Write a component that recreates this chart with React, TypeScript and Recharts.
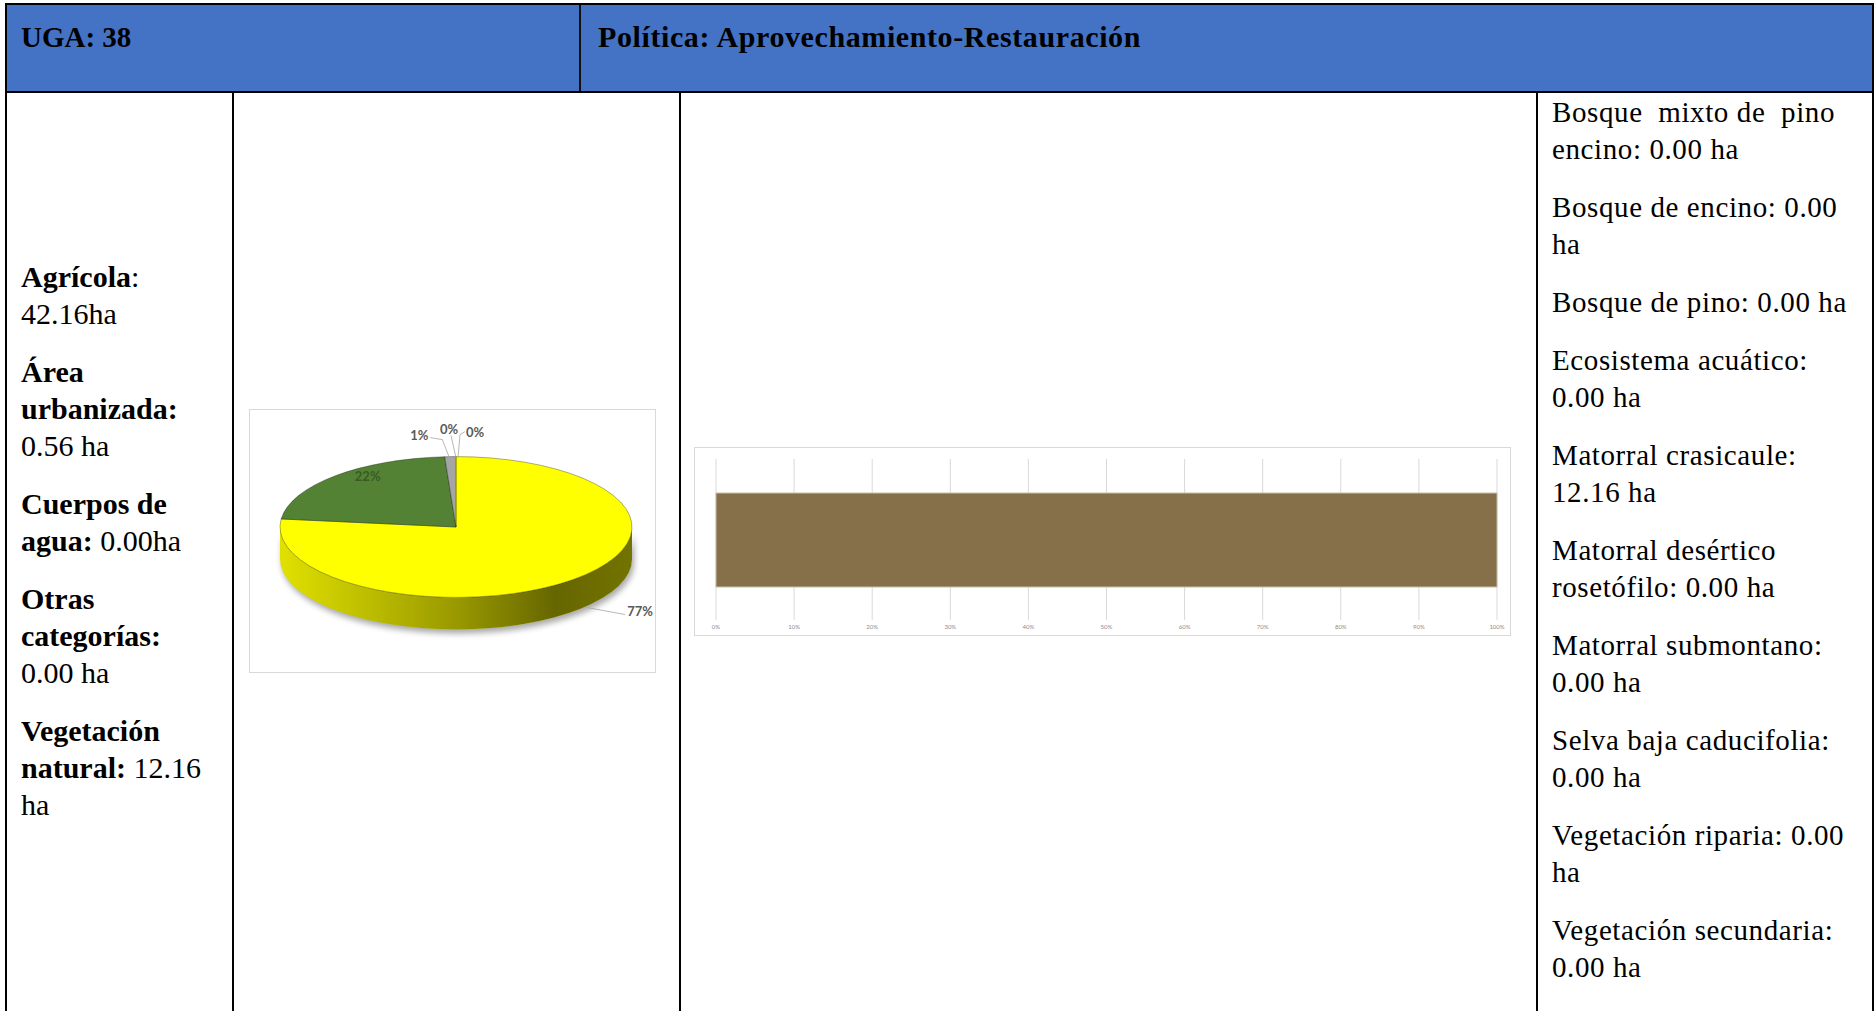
import { Bar, BarChart, CartesianGrid, Cell, Pie, PieChart, XAxis, YAxis } from 'recharts'

// uso de suelo (pastel)
const landUse = ['Agrícola', 'Vegetación natural', 'Área urbanizada', 'Cuerpos de agua', 'Otras categorías']
const landArea = [42.16, 12.16, 0.56, 0, 0]
const landColors = ['#ffff00', '#548235', '#a5a5a5', '#8c8c8c', '#c9c9c9']

// vegetación natural (barra 100%)
const vegTypes = [
	'Bosque mixto de pino encino',
	'Bosque de encino',
	'Bosque de pino',
	'Ecosistema acuático',
	'Matorral crasicaule',
	'Matorral desértico rosetófilo',
	'Matorral submontano',
	'Selva baja caducifolia',
	'Vegetación riparia',
	'Vegetación secundaria',
]
const vegArea = [0, 0, 0, 0, 12.16, 0, 0, 0, 0, 0]
const vegColors = ['#4e6b30', '#70ad47', '#375623', '#5b9bd5', '#86704a', '#c9a66b', '#a9d18e', '#bf9000', '#2e75b6', '#92d050']
const pctTicks = [0, 0.1, 0.2, 0.3, 0.4, 0.5, 0.6, 0.7, 0.8, 0.9, 1]

const pieData = landUse.map((name, i) => ({ name, value: landArea[i] }))
const barRow: Record<string, any> = { name: 'UGA 38' }
vegTypes.forEach((t, i) => {
	barRow[t] = vegArea[i]
})
const barData = [barRow]

const leftParas: [string, string][][] = [
	[['Agrícola', ':'], ['', '42.16ha']],
	[['Área', ''], ['urbanizada:', ''], ['', '0.56 ha']],
	[['Cuerpos de', ''], ['agua:', ' 0.00ha']],
	[['Otras', ''], ['categorías:', ''], ['', '0.00 ha']],
	[['Vegetación', ''], ['natural:', ' 12.16'], ['', 'ha']],
]

const rightParas: string[][] = [
	['Bosque  mixto de  pino', 'encino: 0.00 ha'],
	['Bosque de encino: 0.00', 'ha'],
	['Bosque de pino: 0.00 ha'],
	['Ecosistema acuático:', '0.00 ha'],
	['Matorral crasicaule:', '12.16 ha'],
	['Matorral desértico', 'rosetófilo: 0.00 ha'],
	['Matorral submontano:', '0.00 ha'],
	['Selva baja caducifolia:', '0.00 ha'],
	['Vegetación riparia: 0.00', 'ha'],
	['Vegetación secundaria:', '0.00 ha'],
]

const TILT = 0.4
const DEPTH = 32
const RAD = Math.PI / 180

function Slice3D(props: any) {
	const { cx, cy, outerRadius, startAngle, endAngle, fill } = props
	if (Math.abs(endAngle - startAngle) < 0.05) return <g />
	const rx = outerRadius
	const ry = outerRadius * TILT
	const pt = (a: number, dy = 0) =>
		`${cx + rx * Math.cos(-a * RAD)},${cy + dy + ry * Math.sin(-a * RAD)}`
	const span = Math.abs(endAngle - startAngle)
	const sweep = startAngle > endAngle ? 1 : 0
	const top = `M${cx},${cy} L${pt(startAngle)} A${rx},${ry} 0 ${span > 180 ? 1 : 0} ${sweep} ${pt(endAngle)} Z`
	const lo = Math.min(startAngle, endAngle)
	const hi = Math.max(startAngle, endAngle)
	const walls: string[] = []
	for (let k = -2; k <= 2; k++) {
		const a = Math.max(lo, k * 360 - 180)
		const b = Math.min(hi, k * 360)
		if (b - a > 0.05) {
			const big = b - a > 180 ? 1 : 0
			walls.push(
				`M${pt(b)} A${rx},${ry} 0 ${big} 1 ${pt(a)} L${pt(a, DEPTH)} A${rx},${ry} 0 ${big} 0 ${pt(b, DEPTH)} Z`
			)
		}
	}
	return (
		<g>
			<defs>
				<linearGradient id='wallShade' x1='0' y1='0' x2='1' y2='0'>
					<stop offset='0' stopColor='#000' stopOpacity={0.12} />
					<stop offset='0.5' stopColor='#000' stopOpacity={0.4} />
					<stop offset='0.78' stopColor='#000' stopOpacity={0.6} />
					<stop offset='1' stopColor='#000' stopOpacity={0.55} />
				</linearGradient>
				<filter id='pieShadow' x='-10%' y='-40%' width='120%' height='180%'>
					<feGaussianBlur stdDeviation='3' />
				</filter>
			</defs>
			{walls.map((d, i) => (
				<g key={i}>
					<path d={d} fill='#000' opacity={0.35} transform='translate(2,4)' filter='url(#pieShadow)' />
					<path d={d} fill={fill} />
					<path d={d} fill='url(#wallShade)' />
				</g>
			))}
			<path d={top} fill={fill} stroke='rgba(0,0,0,0.4)' strokeWidth={0.8} strokeLinejoin='round' />
		</g>
	)
}

const labelFont = { fontFamily: 'Lato', fontWeight: 700, fontSize: 13 }

const renderPieLabel = (p: any) => {
	const { cx, cy, midAngle, outerRadius, percent } = p
	const idx = typeof p.index === 'number' ? p.index : landUse.indexOf(p.name ?? p.payload?.name)
	const rx = outerRadius
	const ry = outerRadius * TILT
	const c = Math.cos(-midAngle * RAD)
	const s = Math.sin(-midAngle * RAD)
	const txt = `${Math.round(percent * 100)}%`
	if (idx === 1) {
		return (
			<text x={cx + rx * 0.72 * c - 1} y={cy + ry * 0.85 * s - 8} textAnchor='middle' dominantBaseline='central' fill='#3a5a26' {...labelFont}>
				{txt}
			</text>
		)
	}
	const ax = cx + rx * c
	const ay = cy + ry * s + (s > 0 ? DEPTH : 0)
	let line = ''
	let tx = ax
	let ty = ay
	let anchor: 'start' | 'middle' = 'middle'
	if (idx === 0) {
		line = `M${ax + 14},${ay - 4} L${ax + 52},${ay + 3}`
		tx = ax + 54
		ty = ay - 1
		anchor = 'start'
	} else if (idx === 2) {
		line = `M${ax - 20},${ay - 19} L${ax - 8},${ay - 17} L${ax - 1},${ay + 1}`
		tx = ax - 31
		ty = ay - 22
	} else if (idx === 3) {
		line = `M${ax - 5},${ay - 21} L${ax},${ay + 1}`
		tx = ax - 7
		ty = ay - 28
	} else {
		line = `M${ax + 9},${ay - 25} L${ax + 4},${ay - 22} L${ax + 2},${ay + 1}`
		tx = ax + 19
		ty = ay - 25
	}
	return (
		<g>
			<path d={line} fill='none' stroke='#a6a6a6' strokeWidth={0.8} />
			<text x={tx} y={ty} textAnchor={anchor} dominantBaseline='central' fill='#595959' {...labelFont}>
				{txt}
			</text>
		</g>
	)
}

const abs = (left: number, top: number, width: number, height: number, bg = '#000') => ({
	position: 'absolute' as const,
	left,
	top,
	width,
	height,
	background: bg,
})

export default function App() {
	return (
		<div
			style={{
				position: 'absolute',
				left: 0,
				top: 0,
				width: 1874,
				height: 1011,
				overflow: 'hidden',
				background: '#fff',
				fontFamily: "'Liberation Serif', serif",
				color: '#000',
			}}
		>
			{/* encabezado */}
			<div style={abs(7, 5, 1865, 86, '#4472c4')} />
			<div style={abs(5, 3, 1869, 2)} />
			<div style={abs(5, 91, 1869, 2)} />
			<div style={abs(579, 5, 2, 86, '#111')} />
			<div style={abs(5, 3, 2, 1008)} />
			<div style={abs(1872, 3, 2, 1008)} />
			<div style={abs(232, 93, 2, 918)} />
			<div style={abs(679, 93, 2, 918)} />
			<div style={abs(1536, 93, 2, 918)} />

			<div style={{ position: 'absolute', left: 21, top: 18, fontSize: 29, fontWeight: 700, lineHeight: '38px' }}>
				UGA: 38
			</div>
			<div
				style={{
					position: 'absolute',
					left: 598,
					top: 18,
					fontSize: 30,
					fontWeight: 700,
					lineHeight: '38px',
					letterSpacing: 0.6,
				}}
			>
				Política: Aprovechamiento-Restauración
			</div>

			{/* columna izquierda */}
			<div style={{ position: 'absolute', left: 21, top: 258, fontSize: 30, lineHeight: '37px' }}>
				{leftParas.map((para, i) => (
					<div key={i} style={{ marginBottom: 21 }}>
						{para.map(([b, r], j) => (
							<div key={j} style={{ whiteSpace: 'nowrap' }}>
								{b && <b>{b}</b>}
								{r}
							</div>
						))}
					</div>
				))}
			</div>

			{/* pastel */}
			<div
				style={{
					position: 'absolute',
					left: 249,
					top: 409,
					width: 407,
					height: 264,
					border: '1px solid #d9d9d9',
					boxSizing: 'border-box',
				}}
			>
				<PieChart width={405} height={262}>
					<Pie
						data={pieData}
						dataKey='value'
						nameKey='name'
						cx={201}
						cy={112}
						outerRadius={176}
						startAngle={90}
						endAngle={-270}
						stroke='none'
						shape={Slice3D}
						label={renderPieLabel}
						labelLine={false}
						isAnimationActive={false}
					>
						{pieData.map((d, i) => (
							<Cell key={d.name} fill={landColors[i]} />
						))}
					</Pie>
				</PieChart>
			</div>

			{/* barra 100% */}
			<div
				style={{
					position: 'absolute',
					left: 694,
					top: 447,
					width: 817,
					height: 189,
					border: '1px solid #d9d9d9',
					boxSizing: 'border-box',
				}}
			>
				<BarChart
					width={815}
					height={187}
					data={barData}
					layout='vertical'
					stackOffset='expand'
					margin={{ top: 11, right: 13, left: 21, bottom: 0 }}
				>
					<CartesianGrid horizontal={false} stroke='#d9d9d9' />
					<XAxis
						type='number'
						domain={[0, 1]}
						ticks={pctTicks}
						tickFormatter={(v: number) => `${Math.round(v * 100)}%`}
						axisLine={false}
						tickLine={false}
						tickSize={0}
						tickMargin={5}
						height={15}
						tick={{ fontSize: 6, fill: '#8c8c8c', fontFamily: 'Lato' }}
						interval={0}
					/>
					<YAxis type='category' dataKey='name' hide />
					{vegTypes.map((t, i) => (
						<Bar
							key={t}
							dataKey={t}
							stackId='veg'
							fill={vegColors[i]}
							stroke='#c9bea8'
							strokeWidth={1}
							barSize={94}
							isAnimationActive={false}
						/>
					))}
				</BarChart>
			</div>

			{/* columna derecha */}
			<div style={{ position: 'absolute', left: 1552, top: 94, fontSize: 29, lineHeight: '37px', letterSpacing: 0.6 }}>
				{rightParas.map((para, i) => (
					<div key={i} style={{ marginBottom: 21 }}>
						{para.map((ln, j) => (
							<div key={j} style={{ whiteSpace: 'pre' }}>
								{ln}
							</div>
						))}
					</div>
				))}
			</div>
		</div>
	)
}
